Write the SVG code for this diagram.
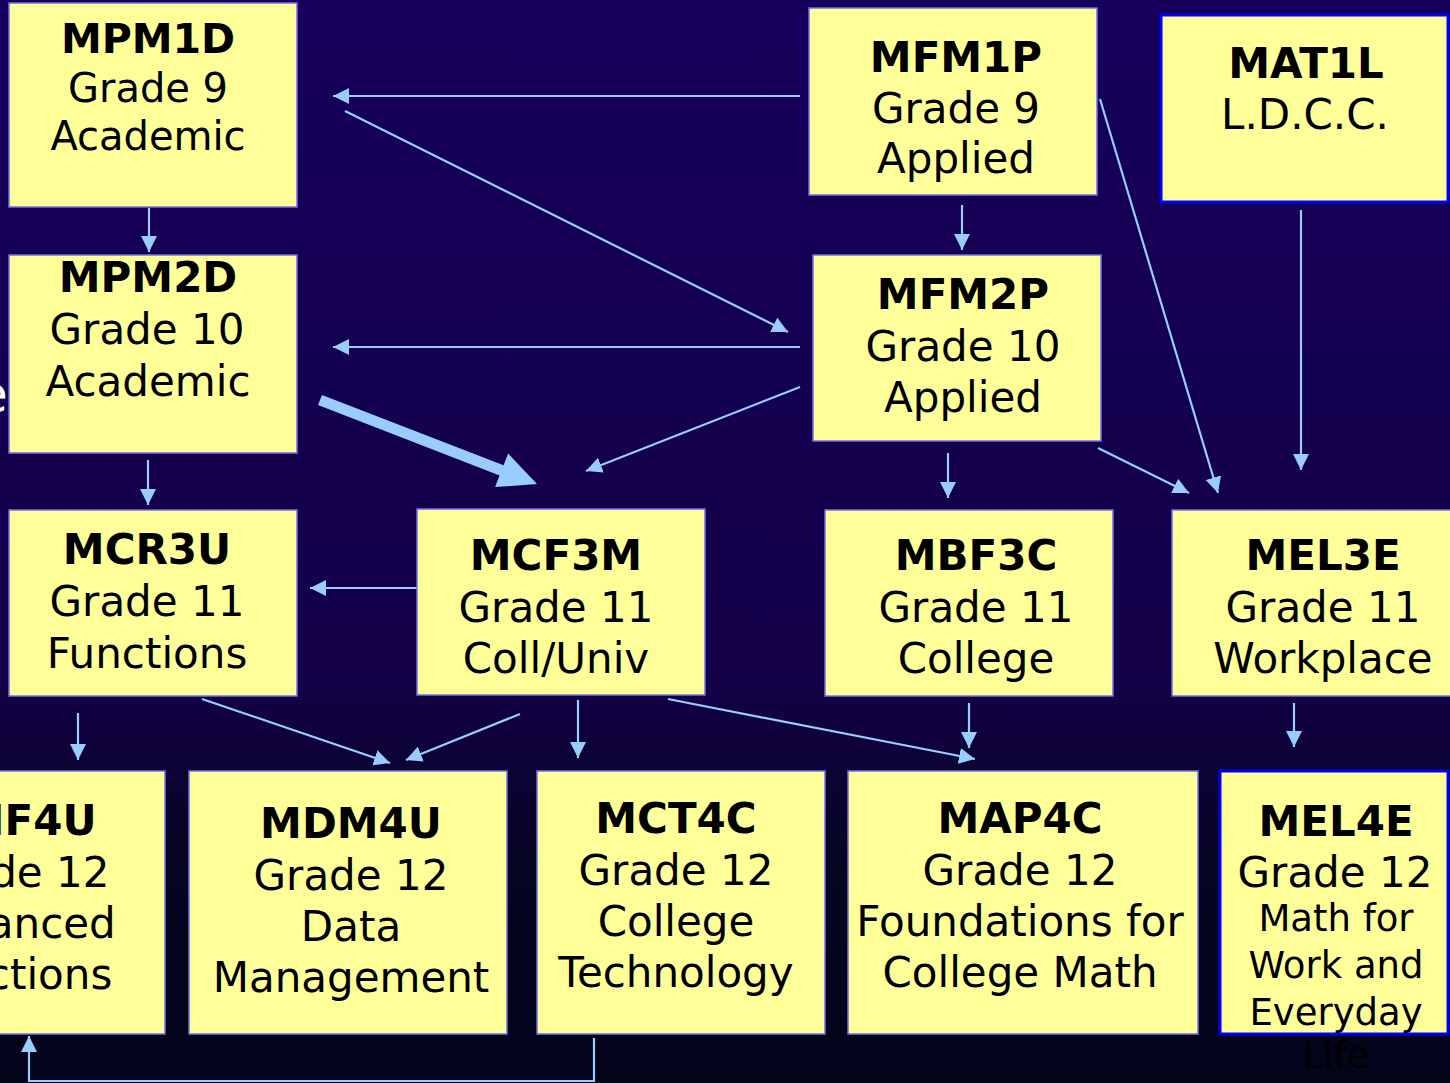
<svg xmlns="http://www.w3.org/2000/svg" width="1450" height="1083" viewBox="0 0 1450 1083">
<style>
.box{fill:#FFFF99;stroke:#7070E8;stroke-width:1.5}
.boxb{fill:#FFFF99;stroke:#0000FF;stroke-width:3}
text{font-family:"DejaVu Sans","Verdana","Liberation Sans",sans-serif;fill:#000;text-anchor:middle}
.c{font-weight:bold;font-size:42px}
.t{font-size:42px}
.s{font-size:37px}
.ln{stroke:#99CCFF;stroke-width:2.2;fill:none}
.la{stroke:#99CCFF;stroke-width:2.2;fill:none;marker-end:url(#ah)}
</style>
<defs>
<linearGradient id="bg" x1="0" y1="0" x2="0" y2="1">
<stop offset="0" stop-color="#16005C"/>
<stop offset="0.62" stop-color="#130048"/>
<stop offset="0.8" stop-color="#060522"/>
<stop offset="1" stop-color="#03031A"/>
</linearGradient>
<marker id="ah" markerUnits="userSpaceOnUse" markerWidth="16" markerHeight="16" viewBox="0 0 16 16" refX="16" refY="8" orient="auto">
<path d="M0,0 L16,8 L0,16 z" fill="#99CCFF"/>
</marker>
</defs>
<rect x="0" y="0" width="1450" height="1083" fill="url(#bg)"/>
<text x="-24" y="412" style="font-size:52px;fill:#fff;text-anchor:start">e</text>

<g id="connectors">
<line class="la" x1="800" y1="96" x2="333" y2="96"/>
<line class="la" x1="345" y1="111" x2="788" y2="332"/>
<line class="la" x1="149" y1="208" x2="149" y2="252"/>
<line class="la" x1="962" y1="205" x2="962" y2="250"/>
<line class="la" x1="1100" y1="99" x2="1218" y2="493"/>
<line class="la" x1="1301" y1="210" x2="1301" y2="470"/>
<line class="la" x1="800" y1="347" x2="333" y2="347"/>
<polygon points="322,394.9 503.6,465.2 508.1,453.5 537,484 495.1,487.1 499.6,475.4 318,405.1" fill="#99CCFF"/>
<line class="la" x1="800" y1="387" x2="586" y2="471"/>
<line class="la" x1="948" y1="453" x2="948" y2="498"/>
<line class="la" x1="1098" y1="448" x2="1189" y2="493"/>
<line class="la" x1="148" y1="460" x2="148" y2="505"/>
<line class="la" x1="417" y1="588" x2="310" y2="588"/>
<line class="la" x1="78" y1="713" x2="78" y2="760"/>
<line class="la" x1="202" y1="699" x2="390" y2="763"/>
<line class="la" x1="520" y1="714" x2="406" y2="760"/>
<line class="la" x1="578" y1="700" x2="578" y2="758"/>
<line class="la" x1="668" y1="699" x2="975" y2="759"/>
<line class="la" x1="969" y1="703" x2="969" y2="748"/>
<line class="la" x1="1294" y1="703" x2="1294" y2="747"/>
<polyline class="la" points="594,1038 594,1081 29,1081 29,1036"/>
</g>

<g id="MPM1D">
<rect class="box" x="9" y="3" width="288" height="204"/>
<text class="c" x="148" y="53" style="font-size:41px">MPM1D</text>
<text class="t" x="148" y="102" style="font-size:40px">Grade 9</text>
<text class="t" x="148" y="150" style="font-size:40px">Academic</text>
</g>
<g id="MFM1P">
<rect class="box" x="809" y="8" width="288" height="187"/>
<text class="c" x="956" y="72">MFM1P</text>
<text class="t" x="956" y="123">Grade 9</text>
<text class="t" x="956" y="173">Applied</text>
</g>
<g id="MAT1L">
<rect class="boxb" x="1161" y="15" width="287" height="187"/>
<text class="c" x="1306" y="78">MAT1L</text>
<text class="t" x="1305" y="129">L.D.C.C.</text>
</g>
<g id="MPM2D">
<rect class="box" x="9" y="255" width="288" height="198"/>
<text class="c" x="148" y="292">MPM2D</text>
<text class="t" x="147" y="344">Grade 10</text>
<text class="t" x="148" y="396">Academic</text>
</g>
<g id="MFM2P">
<rect class="box" x="813" y="255" width="288" height="186"/>
<text class="c" x="963" y="309">MFM2P</text>
<text class="t" x="963" y="361">Grade 10</text>
<text class="t" x="963" y="412">Applied</text>
</g>
<g id="MCR3U">
<rect class="box" x="9" y="510" width="288" height="186"/>
<text class="c" x="147" y="564">MCR3U</text>
<text class="t" x="147" y="616">Grade 11</text>
<text class="t" x="147" y="668">Functions</text>
</g>
<g id="MCF3M">
<rect class="box" x="417" y="509" width="288" height="186"/>
<text class="c" x="556" y="570">MCF3M</text>
<text class="t" x="556" y="622">Grade 11</text>
<text class="t" x="556" y="673">Coll/Univ</text>
</g>
<g id="MBF3C">
<rect class="box" x="825" y="510" width="288" height="186"/>
<text class="c" x="976" y="570">MBF3C</text>
<text class="t" x="976" y="622">Grade 11</text>
<text class="t" x="976" y="673">College</text>
</g>
<g id="MEL3E">
<rect class="box" x="1172" y="510" width="300" height="186"/>
<text class="c" x="1323" y="570">MEL3E</text>
<text class="t" x="1323" y="622">Grade 11</text>
<text class="t" x="1323" y="673">Workplace</text>
</g>
<g id="MHF4U">
<rect class="box" x="-123" y="771" width="288" height="263"/>
<text class="c" x="12" y="835">MHF4U</text>
<text class="t" x="12" y="887">Grade 12</text>
<text class="t" x="12" y="938">Advanced</text>
<text class="t" x="12" y="989">Functions</text>
</g>
<g id="MDM4U">
<rect class="box" x="189" y="771" width="318" height="263"/>
<text class="c" x="351" y="838">MDM4U</text>
<text class="t" x="351" y="890">Grade 12</text>
<text class="t" x="351" y="941">Data</text>
<text class="t" x="351" y="992">Management</text>
</g>
<g id="MCT4C">
<rect class="box" x="537" y="771" width="288" height="263"/>
<text class="c" x="676" y="833">MCT4C</text>
<text class="t" x="676" y="885">Grade 12</text>
<text class="t" x="676" y="936">College</text>
<text class="t" x="676" y="987">Technology</text>
</g>
<g id="MAP4C">
<rect class="box" x="848" y="771" width="350" height="263"/>
<text class="c" x="1020" y="833">MAP4C</text>
<text class="t" x="1020" y="885">Grade 12</text>
<text class="t" x="1020" y="936">Foundations for</text>
<text class="t" x="1020" y="987">College Math</text>
</g>
<g id="MEL4E">
<rect class="boxb" x="1220" y="771" width="228" height="263"/>
<text class="c" x="1336" y="836">MEL4E</text>
<text class="t" x="1335" y="887">Grade 12</text>
<text class="s" x="1336" y="931">Math for</text>
<text class="s" x="1336" y="978">Work and</text>
<text class="s" x="1336" y="1025">Everyday</text>
<text class="s" x="1336" y="1068">Life</text>
</g>
</svg>
